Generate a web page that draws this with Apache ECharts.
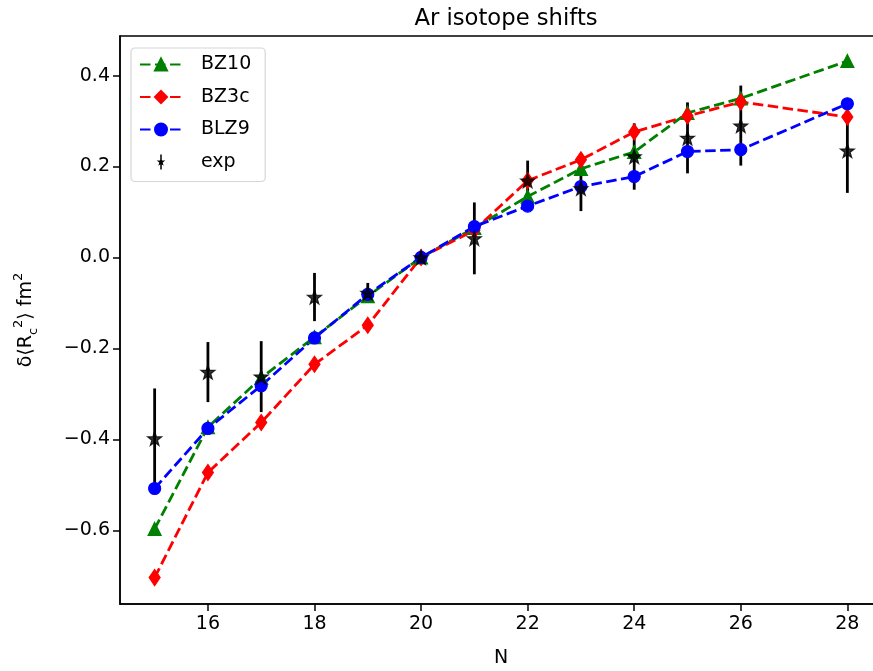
<!DOCTYPE html>
<html>
<head>
<meta charset="utf-8">
<script src="https://cdn.jsdelivr.net/npm/echarts@6/dist/echarts.min.js"></script>
<style>
    html, body { margin: 0; padding: 0; background: #fff; }
    #id-div-chart { width: 873px; height: 671px; }
</style>
</head>
<body>
<div id="id-div-chart"></div>
<script>
var log = console.log.bind(console)

var e = (selector) => document.querySelector(selector)

// 数据，从图上读出来的
var neutrons = [15, 16, 17, 18, 19, 20, 21, 22, 23, 24, 25, 26, 28]
var bz10 = [-0.597, -0.373, -0.265, -0.175, -0.085, 0.0, 0.065, 0.134, 0.195, 0.232, 0.318, 0.350, 0.432]
var bz3c = [-0.704, -0.473, -0.363, -0.235, -0.149, 0.0, 0.060, 0.169, 0.215, 0.276, 0.311, 0.342, 0.309]
var blz9 = [-0.508, -0.376, -0.282, -0.177, -0.081, 0.0, 0.068, 0.113, 0.156, 0.178, 0.233, 0.237, 0.338]
var expValues = [-0.398, -0.252, -0.262, -0.087, -0.078, 0.0, 0.042, 0.169, 0.152, 0.222, 0.263, 0.290, 0.235]
var expErrors = [0.110, 0.066, 0.078, 0.053, 0.022, 0.010, 0.079, 0.044, 0.050, 0.073, 0.078, 0.088, 0.093]

var xTicks = [16, 18, 20, 22, 24, 26, 28]
var yTicks = [-0.6, -0.4, -0.2, 0.0, 0.2, 0.4]

var font = 'DejaVu Sans'
var starPath = 'path://M0,-6L1.41,-1.94L5.71,-1.85L2.28,0.74L3.53,4.85L0,2.4L-3.53,4.85L-2.28,0.74L-5.71,-1.85L-1.41,-1.94Z'
var starBarPath = 'path://M-1,-10L1,-10L1,10L-1,10Z M0,-6L1.41,-1.94L5.71,-1.85L2.28,0.74L3.53,4.85L0,2.4L-3.53,4.85L-2.28,0.74L-5.71,-1.85L-1.41,-1.94Z'

var pairs = function(ys) {
    var r = []
    for (var i = 0; i < neutrons.length; i++) {
        r.push([neutrons[i], ys[i]])
    }
    return r
}

var errorData = function() {
    var r = []
    for (var i = 0; i < neutrons.length; i++) {
        r.push([neutrons[i], expValues[i] - expErrors[i], expValues[i] + expErrors[i]])
    }
    return r
}

var lineSeries = function(name, ys, color, symbol, size) {
    return {
        name: name,
        type: 'line',
        data: pairs(ys),
        symbol: symbol,
        symbolSize: size,
        showAllSymbol: true,
        itemStyle: { color: color, borderColor: color, borderWidth: 1.2 },
        lineStyle: { color: color, width: 2.8, type: [10.5, 4.5] },
        emphasis: { disabled: true },
        animation: false,
    }
}

var formattedOption = function() {
    var option = {
        animation: false,
        textStyle: { fontFamily: font },
        title: {
            text: 'Ar isotope shifts',
            left: 501,
            top: 3,
            textAlign: 'center',
            textStyle: { fontFamily: font, fontSize: 22.7, fontWeight: 'normal', color: '#000' },
        },
        grid: {
            left: 120,
            top: 36,
            right: -9,
            bottom: 67,
            show: true,
            borderColor: '#000',
            borderWidth: 1.5,
            outerBoundsMode: 'none',
        },
        legend: {
            orient: 'vertical',
            left: 131,
            top: 48,
            padding: [7, 14, 10, 8],
            itemWidth: 42,
            itemHeight: 15,
            itemGap: 13.5,
            borderColor: '#d6d6d6',
            borderWidth: 1.2,
            borderRadius: 4,
            backgroundColor: 'rgba(255,255,255,0.8)',
            textStyle: { fontFamily: font, fontSize: 19, color: '#000', padding: [0, 0, 0, 14] },
            data: [
                'BZ10',
                'BZ3c',
                'BLZ9',
                { name: 'exp', icon: starBarPath, itemStyle: { color: '#000' } },
            ],
        },
        xAxis: {
            type: 'value',
            min: 14.35,
            max: 28.65,
            name: 'N',
            nameLocation: 'middle',
            nameGap: 45,
            nameTextStyle: { fontFamily: font, fontSize: 19, color: '#000' },
            axisLine: { show: true, onZero: false, lineStyle: { color: '#000', width: 1.5 } },
            axisTick: { show: true, length: 7, lineStyle: { color: '#000', width: 1.5 }, customValues: xTicks },
            axisLabel: { fontFamily: font, fontSize: 19, color: '#000', margin: 11, customValues: xTicks },
            splitLine: { show: false },
        },
        yAxis: {
            type: 'value',
            min: -0.762,
            max: 0.487,
            name: '{a|δ⟨R}{sub|c}{sup|2}{a|⟩ fm}{sup|2}',
            nameLocation: 'middle',
            nameGap: 80,
            nameRotate: 90,
            nameTextStyle: {
                fontFamily: font,
                fontSize: 19,
                color: '#000',
                rich: {
                    a: { fontFamily: font, fontSize: 19, color: '#000', lineHeight: 28 },
                    sub: { fontFamily: font, fontSize: 13, color: '#000', verticalAlign: 'bottom', lineHeight: 28 },
                    sup: { fontFamily: font, fontSize: 13, color: '#000', verticalAlign: 'top', lineHeight: 28 },
                },
            },
            axisLine: { show: true, onZero: false, lineStyle: { color: '#000', width: 1.5 } },
            axisTick: { show: true, length: 7, lineStyle: { color: '#000', width: 1.5 }, customValues: yTicks },
            axisLabel: {
                fontFamily: font,
                fontSize: 19,
                color: '#000',
                margin: 10,
                customValues: yTicks,
                formatter: function(v) {
                    return v.toFixed(1).replace('-', '\u2212')
                },
            },
            splitLine: { show: false },
        },
        series: [
            lineSeries('BZ10', bz10, '#008000', 'triangle', 13),
            lineSeries('BZ3c', bz3c, '#ff0000', 'diamond', [11, 16]),
            lineSeries('BLZ9', blz9, '#0000ff', 'circle', 12),
            {
                name: 'exp',
                type: 'custom',
                data: errorData(),
                renderItem: function(params, api) {
                    var top = api.coord([api.value(0), api.value(2)])
                    var bottom = api.coord([api.value(0), api.value(1)])
                    return {
                        type: 'line',
                        shape: { x1: top[0], y1: top[1], x2: bottom[0], y2: bottom[1] },
                        style: { stroke: '#000', lineWidth: 2.8 },
                    }
                },
                encode: { x: 0, y: [1, 2] },
                z: 3,
            },
            {
                name: 'exp',
                type: 'scatter',
                data: pairs(expValues),
                symbol: starPath,
                symbolSize: 14,
                itemStyle: { color: '#000', borderColor: '#000', borderWidth: 1.2 },
                emphasis: { disabled: true },
                z: 4,
            },
        ],
    }
    return option
}

var __main = function() {
    var chart = echarts.init(e('#id-div-chart'))
    chart.setOption(formattedOption())
}

__main()
</script>
</body>
</html>
